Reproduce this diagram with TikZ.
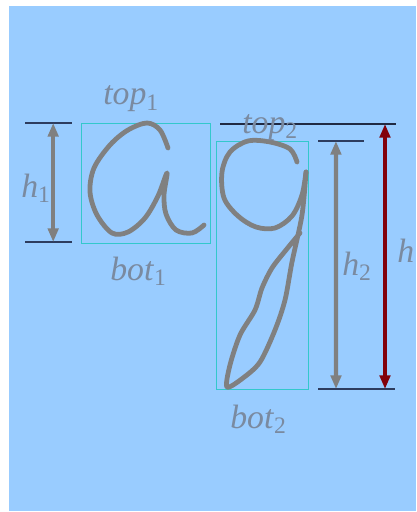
\documentclass[tikz,border=0pt]{standalone}
\usepackage{fontspec}
\setmainfont{Liberation Serif}
\usepackage{tikz}
\usetikzlibrary{arrows.meta, positioning, calc}

\definecolor{skyblue}{RGB}{153,204,255}
\definecolor{inkgray}{RGB}{128,128,128}
\definecolor{labelgray}{RGB}{122,138,160}
\definecolor{boxcyan}{RGB}{51,200,204}
\definecolor{rulenavy}{RGB}{45,60,95}
\definecolor{darkred}{RGB}{130,0,10}

\newcommand{\sublbl}[2]{\textit{#1}\textsubscript{#2}}

\begin{document}
\begin{tikzpicture}[
    x=0.025cm, y=-0.025cm,
    bbox/.style={draw=boxcyan, line width=0.7pt, inner sep=0pt},
    ink/.style={draw=inkgray, line width=3.4pt, line cap=round, line join=round},
    rule/.style={draw=rulenavy, line width=1.4pt},
    dimarr/.style={{Triangle[length=3.4mm, width=2.6mm]}-{Triangle[length=3.4mm, width=2.6mm]}, line width=3pt, inkgray},
    lbl/.style={anchor=base west, inner sep=0pt, font=\fontsize{24}{26}\selectfont, text=labelgray},
]
\useasboundingbox (0,0) rectangle (416,512);
\fill[skyblue] (9,6) rectangle (416,511);

% letter boxes
\node[bbox, minimum width=129*0.025cm, minimum height=120*0.025cm, anchor=north west] (BOXA) at (81,123) {};
\node[bbox, minimum width=92*0.025cm, minimum height=248*0.025cm, anchor=north west] (BOXG) at (216,141) {};

% handwritten a
\draw[ink] plot[smooth, tension=0.55] coordinates {(168,148) (160,130) (147,123) (128,130) (110,145) (94,168) (90,192) (97,215) (112,233) (128,232) (145,218) (158,196) (167,173) (164,195) (166,214) (176,230) (192,233) (204,225)};

% handwritten g
\draw[ink] plot[smooth, tension=0.55] coordinates {(297,162) (290,149) (270,142) (248,141) (230,152) (222,172) (224,198) (238,216) (256,227) (275,228) (292,216) (302,195) (306,172)};
\draw[ink] plot[smooth, tension=0.5] coordinates {(306,172) (302,215) (292,262) (285,300) (275,330) (260,362) (243,378) (227,387) (230,365) (240,335) (255,310) (262,288) (272,268) (286,250) (300,233)};

% reference lines
\coordinate (A1) at (25,123);
\coordinate (A2) at (72,123);
\coordinate (B1) at (25,242);
\coordinate (B2) at (72,242);
\coordinate (T1) at (220,124);
\coordinate (T2) at (396,124);
\coordinate (G1) at (318,141);
\coordinate (G2) at (364,141);
\coordinate (H1) at (318,389);
\coordinate (H2) at (395,389);
\draw[rule] (A1) -- (A2);
\draw[rule] (B1) -- (B2);
\draw[rule, draw=rulenavy!70!black] (T1) -- (T2);
\draw[rule] (G1) -- (G2);
\draw[rule] (H1) -- (H2);

% height arrows
\draw[dimarr] ($(A1)!0.6!(A2)$) -- ($(B1)!0.6!(B2)$);
\draw[dimarr] ($(G1)!0.39!(G2)$) -- (336,389);
\draw[dimarr, darkred] (385,124) -- (385,389);

% labels
\node[lbl] (TOP1) at (103,105) {\sublbl{top}{1}};
\node[lbl] (BOT1) at (110,280) {\sublbl{bot}{1}};
\node[lbl] (TOP2) at (242,133) {\sublbl{top}{2}};
\node[lbl] (BOT2) at (230,428) {\sublbl{bot}{2}};
\node[lbl] (HA) at (21,197) {\sublbl{h}{1}};
\node[lbl] (HG) at (342,275) {\sublbl{h}{2}};
\node[lbl] (HH) at (397,262) {\textit{h}};
\end{tikzpicture}
\end{document}
